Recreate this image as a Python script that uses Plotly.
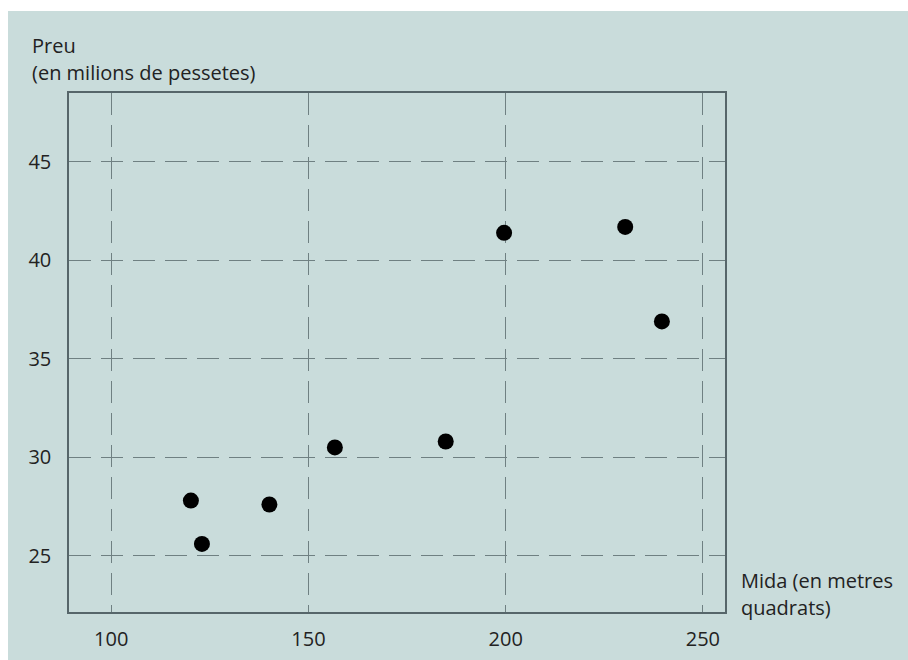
import plotly.graph_objects as go

# Data
mida = [120.2, 123.0, 140.1, 156.7, 184.8, 199.6, 230.3, 239.6]
preu = [27.8, 25.6, 27.6, 30.5, 30.8, 41.4, 41.7, 36.9]

x_ticks = [100, 150, 200, 250]
y_ticks = [25, 30, 35, 40, 45]

y_title = ["Preu", "(en milions de pessetes)"]
x_title = ["Mida (en metres", "quadrats)"]

BG = "#c9dcdb"
GRID = "#6f8082"
FRAME = "#56666a"
TXT = "#222222"
FONT = "Open Sans"
FS = 20

W, H = 908, 660
OFF = 8  # page body margin
L, R, T, B = 61, 191, 85, 56
pw, ph = W - L - R, H - T - B

def px(x):  # screenshot x -> paper
    return (x - OFF - L) / pw

def py(y):  # screenshot y -> paper
    return (H - B - (y - OFF)) / ph

fig = go.Figure(go.Scatter(
    x=mida, y=preu, mode="markers",
    marker=dict(color="black", size=16, line=dict(width=0)),
    hoverinfo="x+y", showlegend=False,
))

axis_common = dict(
    showgrid=True, gridcolor=GRID, gridwidth=1.3, griddash="22px,10px",
    zeroline=False, showline=True, linecolor=FRAME, linewidth=1.5, mirror=True,
    ticks="", tickfont=dict(family=FONT, size=FS, color=TXT),
)

fig.update_xaxes(range=[89.3, 255.6], tickvals=x_ticks, ticktext=[str(v) for v in x_ticks],
                 ticklabelstandoff=8, **axis_common)
fig.update_yaxes(range=[22.14, 48.5], tickvals=y_ticks, ticktext=[str(v) for v in y_ticks],
                 ticklabelstandoff=12, **axis_common)

annotations = []
for i, t in enumerate(y_title):
    annotations.append(dict(text=t, xref="paper", yref="paper", x=px(30), y=py(45 + 27 * i),
                            xanchor="left", yanchor="middle", showarrow=False,
                            font=dict(family=FONT, size=FS, color=TXT)))
for i, t in enumerate(x_title):
    annotations.append(dict(text=t, xref="paper", yref="paper", x=px(739), y=py(580 + 27 * i),
                            xanchor="left", yanchor="middle", showarrow=False,
                            font=dict(family=FONT, size=FS, color=TXT)))

shapes = [
    dict(type="rect", xref="paper", yref="paper", x0=px(0), x1=px(W + 20), y0=py(11), y1=py(0),
         fillcolor="white", line=dict(width=0), layer="below"),
]

fig.update_layout(
    width=W, height=H,
    margin=dict(l=L, r=R, t=T, b=B, pad=0),
    paper_bgcolor=BG, plot_bgcolor=BG,
    annotations=annotations, shapes=shapes,
    font=dict(family=FONT, color=TXT),
)

fig.write_html("out.html", post_script="document.body.style.margin='8px 0 0 8px';")
